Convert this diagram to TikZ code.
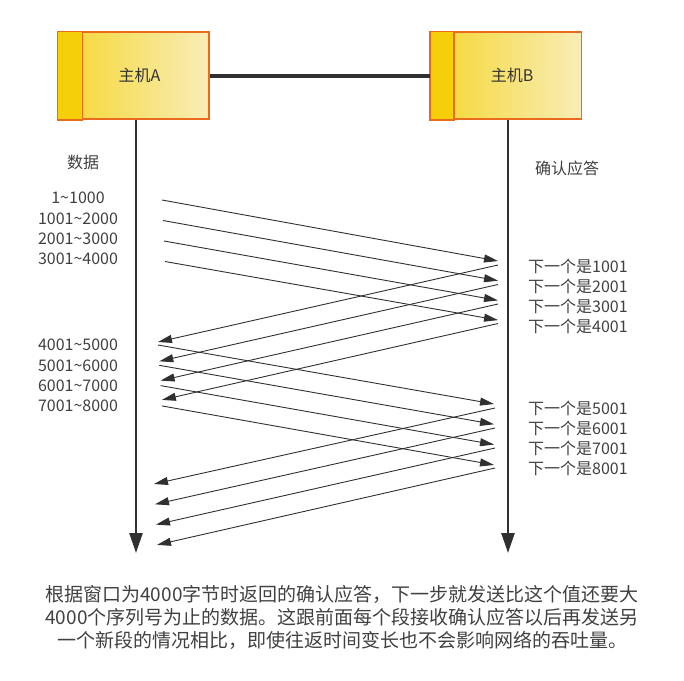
\documentclass[tikz,border=0pt]{standalone}
\usepackage{fontspec}
\setmainfont{Noto Sans CJK SC}
\usetikzlibrary{arrows.meta, positioning}
\definecolor{HostYellow}{HTML}{F4CF0A}
\definecolor{HostPale}{HTML}{F8EDB8}
\definecolor{HostBorder}{HTML}{EA6A1E}
\definecolor{LineGray}{HTML}{303030}
\definecolor{TextGray}{HTML}{404040}
\tikzset{
    host/.style={draw=HostBorder, line width=1.5pt, left color=HostYellow!85!white, right color=HostPale, minimum width=151pt, minimum height=87pt, font=\fontsize{16}{18}\selectfont, text=black!80},
    strip/.style={draw=HostBorder, line width=1.5pt, fill=HostYellow},
    seqlabel/.style={font=\fontsize{16}{18}\selectfont, text=TextGray, inner sep=0pt, minimum height=20pt},
    acklabel/.style={seqlabel, anchor=west, minimum height=19.7pt},
    msg/.style={-{Triangle[length=14pt, width=8pt]}, line width=0.9pt, draw=LineGray},
    life/.style={-{Triangle[length=20pt, width=13pt]}, line width=2.5pt, draw=LineGray}
}
\begin{document}
\begin{tikzpicture}[x=1pt, y=-1pt]
    \useasboundingbox (0,0) rectangle (684,680);

    \node[host] (hostA) at (133.5,75.5) {\hspace*{12pt}主机A};
    \node[host] (hostB) at (506,75.5) {\hspace*{12pt}主机B};
    \draw[strip] (hostA.north west) rectangle ([xshift=25pt]hostA.south west);
    \draw[strip] (hostB.north west) rectangle ([xshift=24pt]hostB.south west);
    \draw[line width=4pt, LineGray] (hostA.east) -- (hostB.west);

    \coordinate (endA) at (136,553);
    \coordinate (endB) at (508,553);
    \draw[life] (hostA.south -| endA) -- (endA);
    \draw[life] (hostB.south -| endB) -- (endB);

    \node[seqlabel] (dataHead) at (83,162) {数据};
    \node[seqlabel] (ackHead) at (567,168) {确认应答};

    \node[seqlabel] (data1) at (78,198) {1\textasciitilde1000};
    \node[seqlabel, below=0pt of data1] (data2) {1001\textasciitilde2000};
    \node[seqlabel, below=0pt of data2] (data3) {2001\textasciitilde3000};
    \node[seqlabel, below=0pt of data3] (data4) {3001\textasciitilde4000};
    \node[seqlabel] (data5) at (78,345) {4001\textasciitilde5000};
    \node[seqlabel, below=0pt of data5] (data6) {5001\textasciitilde6000};
    \node[seqlabel, below=0pt of data6] (data7) {6001\textasciitilde7000};
    \node[seqlabel, below=0pt of data7] (data8) {7001\textasciitilde8000};

    \node[acklabel] (ack1) at (528,266) {下一个是1001};
    \node[acklabel, below=0pt of ack1.south west, anchor=north west] (ack2) {下一个是2001};
    \node[acklabel, below=0pt of ack2.south west, anchor=north west] (ack3) {下一个是3001};
    \node[acklabel, below=0pt of ack3.south west, anchor=north west] (ack4) {下一个是4001};
    \node[acklabel] (ack5) at (528,408) {下一个是5001};
    \node[acklabel, below=0pt of ack5.south west, anchor=north west] (ack6) {下一个是6001};
    \node[acklabel, below=0pt of ack6.south west, anchor=north west] (ack7) {下一个是7001};
    \node[acklabel, below=0pt of ack7.south west, anchor=north west] (ack8) {下一个是8001};

    % segments and acknowledgements
    \foreach \i in {0,...,3} {
        \coordinate (sendA\i) at (162+\i, 200+20.5*\i);
        \coordinate (recvB\i) at (498, 261+19.7*\i);
        \draw[msg] (sendA\i) -- (recvB\i);
        \coordinate (ackB\i) at (498, 265+19.5*\i);
        \coordinate (ackA\i) at (158+1.3*\i, 342+19.3*\i);
        \draw[msg] (ackB\i) -- (ackA\i);
        \coordinate (sendC\i) at (158+1.3*\i, 345+20.3*\i);
        \coordinate (recvD\i) at (494, 404+20.3*\i);
        \draw[msg] (sendC\i) -- (recvD\i);
        \coordinate (ackD\i) at (495, 408+20*\i);
        \coordinate (ackC\i) at (154+\i, 484+20.3*\i);
        \draw[msg] (ackD\i) -- (ackC\i);
    }

    \node[font=\fontsize{19}{23}\selectfont, text=TextGray, align=center] (note) at (342,617)
        {根据窗口为4000字节时返回的确认应答，下一步就发送比这个值还要大\\
         4000个序列号为止的数据。这跟前面每个段接收确认应答以后再发送另\\
         一个新段的情况相比，即使往返时间变长也不会影响网络的吞吐量。};
\end{tikzpicture}
\end{document}
